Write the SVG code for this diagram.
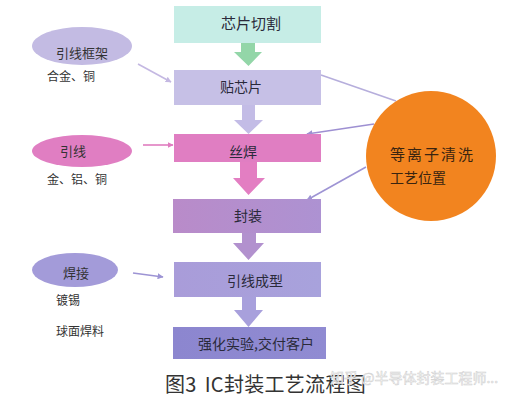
<svg xmlns="http://www.w3.org/2000/svg" width="513" height="401" viewBox="0 0 513 401">
<style>
text{font-family:"Noto Sans CJK SC","Liberation Sans",sans-serif;dominant-baseline:central}
.bt{font-size:14px;fill:#2a2a3a;text-anchor:middle}
.et{font-size:13px;fill:#333;text-anchor:middle}
.st{font-size:12px;fill:#333}
.ln{fill:none;stroke-width:1.6}
</style>
<defs>
<marker id="ah" viewBox="0 0 10 10" refX="9" refY="5" markerWidth="6" markerHeight="6" orient="auto" markerUnits="userSpaceOnUse"><path d="M0,0 L10,5 L0,10 z" fill="context-stroke"/></marker>
<linearGradient id="g4" x1="0" x2="1" y1="0" y2="0"><stop offset="0" stop-color="#b98bc9"/><stop offset="1" stop-color="#ad92d2"/></linearGradient>
<linearGradient id="g5" x1="0" x2="1" y1="0" y2="0"><stop offset="0" stop-color="#a99cd9"/><stop offset="1" stop-color="#a8a2dc"/></linearGradient>
<linearGradient id="g6" x1="0" x2="1" y1="0" y2="0"><stop offset="0" stop-color="#8c86cf"/><stop offset="1" stop-color="#908bd2"/></linearGradient>
</defs>
<rect width="513" height="401" fill="#ffffff"/>

<g id="connectors">
<polygon points="241,43 255,43 255,52 262,52 248.5,66 234,52 241,52" fill="#93d6a8"/>
<polygon points="242,105 255,105 255,120 263,120 248.5,134 234,120 242,120" fill="#c3bce6"/>
<polygon points="240,162 257,162 257,178 265,178 248.5,195 233,178 240,178" fill="#e37ec2"/>
<polygon points="242,233 256,233 256,243 264,243 248.5,260 233,243 242,243" fill="#b291ce"/>
<polygon points="242,297 256,297 256,310 263,310 248.5,327 234,310 242,310" fill="#a8a0dc"/>
<line class="ln" x1="138" y1="64" x2="171" y2="82" stroke="#c4b8e2" marker-end="url(#ah)"/>
<line class="ln" x1="143" y1="145" x2="173" y2="145" stroke="#e07dc0" marker-end="url(#ah)"/>
<line class="ln" x1="133" y1="273" x2="163" y2="277" stroke="#9d94d4" marker-end="url(#ah)"/>
<line class="ln" x1="321" y1="75" x2="396" y2="101" stroke="#b6aedc"/>
<line class="ln" x1="374" y1="124" x2="307" y2="134" stroke="#9e90d2" marker-end="url(#ah)"/>
<line class="ln" x1="366" y1="167" x2="307" y2="200" stroke="#9e94d4" marker-end="url(#ah)"/>
</g>

<g id="n1"><rect x="174" y="6" width="147" height="37" fill="#c6ede6"/><text class="bt" x="251" y="22" style="font-size:15px">芯片切割</text></g>
<g id="n2"><rect x="174" y="70" width="147" height="35" fill="#c6c0e6"/><text class="bt" x="241" y="86">贴芯片</text></g>
<g id="n3"><rect x="174" y="134" width="147" height="28" fill="#e07ec2"/><text class="bt" x="243" y="151">丝焊</text></g>
<g id="n4"><rect x="173" y="199" width="148" height="34" fill="url(#g4)"/><text class="bt" x="248" y="215">封装</text></g>
<g id="n5"><rect x="174" y="262" width="147" height="35" fill="url(#g5)"/><text class="bt" x="255" y="280">引线成型</text></g>
<g id="n6"><rect x="173" y="327" width="153" height="32" fill="url(#g6)"/><text class="bt" x="256" y="343">强化实验,交付客户</text></g>

<g id="e1"><ellipse cx="82" cy="46" rx="50" ry="19" fill="#c3bbe3"/><text class="et" x="82" y="52">引线框架</text><text class="st" x="47" y="75">合金、铜</text></g>
<g id="e2"><ellipse cx="82" cy="151" rx="50" ry="16" fill="#e07ec2"/><text class="et" x="73" y="150">引线</text><text class="st" x="47" y="178">金、铝、铜</text></g>
<g id="e3"><ellipse cx="75" cy="270" rx="43" ry="17" fill="#a39bd9"/><text class="et" x="76" y="272">焊接</text><text class="st" x="56" y="299">镀锡</text><text class="st" x="56" y="330">球面焊料</text></g>

<g id="plasma"><circle cx="431" cy="156" r="65" fill="#f2841f"/><text x="390" y="153" style="font-size:15px;fill:#3a2410;letter-spacing:2px">等离子清洗</text><text x="390" y="177" style="font-size:14px;fill:#3a2410">工艺位置</text></g>

<text x="165" y="383" style="font-size:20px;fill:#333;letter-spacing:0.3px">图3<tspan dx="8">IC封装工艺流程图</tspan></text>
<text x="330" y="377" style="font-size:14px;fill:#fbfbfb;stroke:#cfcfcf;stroke-width:0.5">知乎 @半导体封装工程师...</text>
</svg>
